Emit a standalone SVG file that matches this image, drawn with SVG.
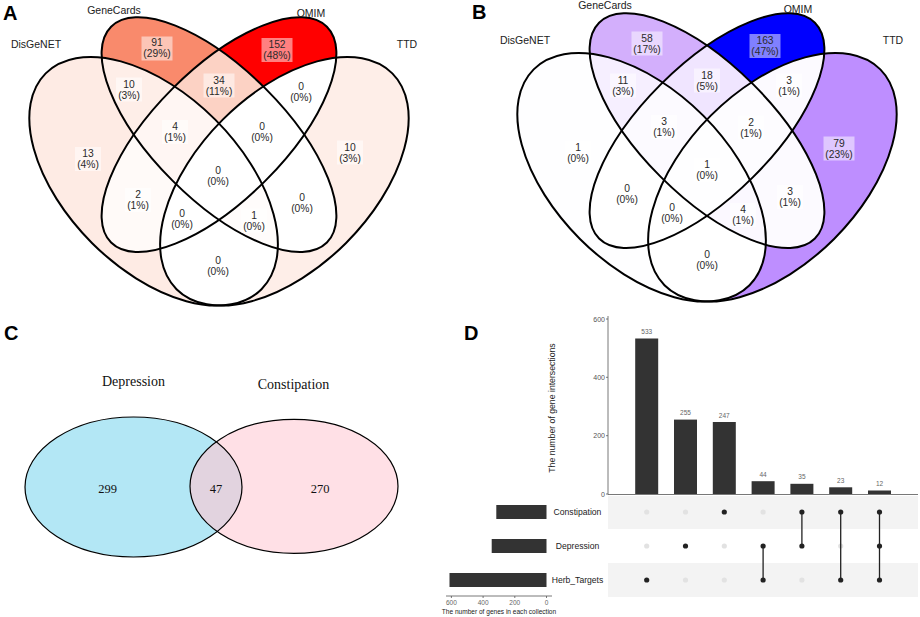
<svg xmlns="http://www.w3.org/2000/svg" width="920" height="617" viewBox="0 0 920 617">
<style>
.plab{font-family:"Liberation Sans",Arial,sans-serif;font-weight:bold;font-size:20px;fill:#000}
.setn{font-family:"Liberation Sans",Arial,sans-serif;font-size:10.5px;fill:#222;text-anchor:middle}
.rl text{font-family:"Liberation Sans",Arial,sans-serif;font-size:10.3px;fill:#2a2a2a;text-anchor:middle}
.rl rect{fill:#fff;fill-opacity:0.5}
.ol{fill:none;stroke:#000;stroke-width:2}
.cser{font-family:"Liberation Serif","Times New Roman",serif;fill:#111;text-anchor:middle}
.dsm{font-family:"Liberation Sans",Arial,sans-serif;fill:#666;font-size:6.5px;text-anchor:middle}
.dtk{font-family:"Liberation Sans",Arial,sans-serif;fill:#555;font-size:7px;text-anchor:end}
.dtl{font-family:"Liberation Sans",Arial,sans-serif;fill:#222;text-anchor:middle}
.bar{fill:#333}
.on{fill:#222}
.off{fill:#e2e2e2}
.lnk{stroke:#222;stroke-width:1.3}
.ax{stroke:#555;stroke-width:0.8;fill:none}
</style>
<defs>
<ellipse id="eA" cx="0.35" cy="0.47" rx="0.35" ry="0.2" transform="rotate(135 0.35 0.47)" vector-effect="non-scaling-stroke"/>
<ellipse id="eB" cx="0.5" cy="0.577" rx="0.35" ry="0.15" transform="rotate(135 0.5 0.577)" vector-effect="non-scaling-stroke"/>
<ellipse id="eC" cx="0.5" cy="0.577" rx="0.35" ry="0.15" transform="rotate(45 0.5 0.577)" vector-effect="non-scaling-stroke"/>
<ellipse id="eD" cx="0.65" cy="0.47" rx="0.35" ry="0.2" transform="rotate(45 0.65 0.47)" vector-effect="non-scaling-stroke"/>
<clipPath id="cA"><use href="#eA"/></clipPath>
<clipPath id="cB"><use href="#eB"/></clipPath>
<clipPath id="cC"><use href="#eC"/></clipPath>
<clipPath id="cD"><use href="#eD"/></clipPath>
<clipPath id="cLeft"><ellipse cx="133.5" cy="487" rx="108.5" ry="70"/></clipPath>
</defs>
<rect width="920" height="617" fill="#fff"/>

<!-- Panel A -->
<g id="panelA">
<text class="plab" x="3" y="20">A</text>
<g id="vennA" transform="matrix(436 0 0 -436 1 386.2)">
 <use href="#eA" fill="#FEEBE4"/>
 <use href="#eB" fill="#F98A6C"/>
 <use href="#eC" fill="#FF0000"/>
 <use href="#eD" fill="#FEEEE8"/>
 <g clip-path="url(#cA)"><use href="#eB" fill="#FEEEE8"/></g>
 <g clip-path="url(#cA)"><use href="#eC" fill="#FFFAF8"/></g>
 <g clip-path="url(#cA)"><use href="#eD" fill="#FFFFFF"/></g>
 <g clip-path="url(#cB)"><use href="#eC" fill="#FCD2C4"/></g>
 <g clip-path="url(#cB)"><use href="#eD" fill="#FFFFFF"/></g>
 <g clip-path="url(#cC)"><use href="#eD" fill="#FFFFFF"/></g>
 <g clip-path="url(#cA)"><g clip-path="url(#cB)"><use href="#eC" fill="#FFF6F3"/></g></g>
 <g clip-path="url(#cA)"><g clip-path="url(#cB)"><use href="#eD" fill="#FFFCFB"/></g></g>
 <g clip-path="url(#cA)"><g clip-path="url(#cC)"><use href="#eD" fill="#FFFFFF"/></g></g>
 <g clip-path="url(#cB)"><g clip-path="url(#cC)"><use href="#eD" fill="#FFFFFF"/></g></g>
 <g clip-path="url(#cA)"><g clip-path="url(#cB)"><g clip-path="url(#cC)"><use href="#eD" fill="#FFFFFF"/></g></g></g>
 <g id="A_DisGeNET"><use href="#eA" class="ol"/></g>
 <g id="A_GeneCards"><use href="#eB" class="ol"/></g>
 <g id="A_OMIM"><use href="#eC" class="ol"/></g>
 <g id="A_TTD"><use href="#eD" class="ol"/></g>
</g>
<text class="setn" x="36" y="48">DisGeNET</text>
<text class="setn" x="114" y="14">GeneCards</text>
<text class="setn" x="311" y="17">OMIM</text>
<text class="setn" x="407" y="48">TTD</text>
<g class="rl">
 <g><rect x="75" y="147" width="26" height="24"/><text x="88" y="157">13</text><text x="88" y="168">(4%)</text></g>
 <g><rect x="141.5" y="36.5" width="31" height="24"/><text x="157" y="46">91</text><text x="157" y="57">(29%)</text></g>
 <g><rect x="261.5" y="38" width="31" height="24"/><text x="277" y="48">152</text><text x="277" y="59">(48%)</text></g>
 <g><rect x="116" y="77.5" width="26" height="24"/><text x="129" y="87.5">10</text><text x="129" y="98.5">(3%)</text></g>
 <g><rect x="203.5" y="73.5" width="31" height="24"/><text x="219" y="83.5">34</text><text x="219" y="94.5">(11%)</text></g>
 <g><rect x="288" y="79.5" width="26" height="24"/><text x="301" y="89.5">0</text><text x="301" y="100.5">(0%)</text></g>
 <g><rect x="162" y="120" width="26" height="24"/><text x="175" y="130">4</text><text x="175" y="141">(1%)</text></g>
 <g><rect x="249" y="120" width="26" height="24"/><text x="262" y="130">0</text><text x="262" y="141">(0%)</text></g>
 <g><rect x="337" y="140.5" width="26" height="24"/><text x="350" y="150.5">10</text><text x="350" y="161.5">(3%)</text></g>
 <g><rect x="125" y="188" width="26" height="24"/><text x="138" y="198">2</text><text x="138" y="209">(1%)</text></g>
 <g><rect x="205" y="164" width="26" height="24"/><text x="218" y="174">0</text><text x="218" y="185">(0%)</text></g>
 <g><rect x="169" y="207" width="26" height="24"/><text x="182" y="217">0</text><text x="182" y="228">(0%)</text></g>
 <g><rect x="241" y="208.5" width="26" height="24"/><text x="254" y="218.5">1</text><text x="254" y="229.5">(0%)</text></g>
 <g><rect x="289" y="190.5" width="26" height="24"/><text x="302" y="200.5">0</text><text x="302" y="211.5">(0%)</text></g>
 <g><rect x="205" y="253.5" width="26" height="24"/><text x="218" y="263.5">0</text><text x="218" y="274.5">(0%)</text></g>
</g>
</g>

<!-- Panel B -->
<g id="panelB">
<text class="plab" x="472" y="19">B</text>
<g id="vennB" transform="matrix(436 0 0 -436 489 382.2)">
 <use href="#eA" fill="#FEFEFF"/>
 <use href="#eB" fill="#D3AFFC"/>
 <use href="#eC" fill="#0000FF"/>
 <use href="#eD" fill="#BE8EFF"/>
 <g clip-path="url(#cA)"><use href="#eB" fill="#F6EFFF"/></g>
 <g clip-path="url(#cA)"><use href="#eC" fill="#FFFFFF"/></g>
 <g clip-path="url(#cA)"><use href="#eD" fill="#FFFFFF"/></g>
 <g clip-path="url(#cB)"><use href="#eC" fill="#F0E5FF"/></g>
 <g clip-path="url(#cB)"><use href="#eD" fill="#FCFAFF"/></g>
 <g clip-path="url(#cC)"><use href="#eD" fill="#FCFAFF"/></g>
 <g clip-path="url(#cA)"><g clip-path="url(#cB)"><use href="#eC" fill="#FCFAFF"/></g></g>
 <g clip-path="url(#cA)"><g clip-path="url(#cB)"><use href="#eD" fill="#FBF8FF"/></g></g>
 <g clip-path="url(#cA)"><g clip-path="url(#cC)"><use href="#eD" fill="#FFFFFF"/></g></g>
 <g clip-path="url(#cB)"><g clip-path="url(#cC)"><use href="#eD" fill="#FDFCFF"/></g></g>
 <g clip-path="url(#cA)"><g clip-path="url(#cB)"><g clip-path="url(#cC)"><use href="#eD" fill="#FEFEFF"/></g></g></g>
 <g id="B_DisGeNET"><use href="#eA" class="ol"/></g>
 <g id="B_GeneCards"><use href="#eB" class="ol"/></g>
 <g id="B_OMIM"><use href="#eC" class="ol"/></g>
 <g id="B_TTD"><use href="#eD" class="ol"/></g>
</g>
<text class="setn" x="525" y="44">DisGeNET</text>
<text class="setn" x="605" y="9">GeneCards</text>
<text class="setn" x="798" y="13">OMIM</text>
<text class="setn" x="893" y="44">TTD</text>
<g class="rl">
 <g><rect x="565" y="140.5" width="26" height="24"/><text x="578" y="150.5">1</text><text x="578" y="161.5">(0%)</text></g>
 <g><rect x="631.5" y="31.5" width="31" height="24"/><text x="647" y="41.5">58</text><text x="647" y="52.5">(17%)</text></g>
 <g><rect x="749.5" y="34" width="31" height="24"/><text x="765" y="44">163</text><text x="765" y="55">(47%)</text></g>
 <g><rect x="610" y="73.5" width="26" height="24"/><text x="623" y="83.5">11</text><text x="623" y="94.5">(3%)</text></g>
 <g><rect x="694" y="68.5" width="26" height="24"/><text x="707" y="78.5">18</text><text x="707" y="89.5">(5%)</text></g>
 <g><rect x="776" y="73.5" width="26" height="24"/><text x="789" y="83.5">3</text><text x="789" y="94.5">(1%)</text></g>
 <g><rect x="651" y="115" width="26" height="24"/><text x="664" y="125">3</text><text x="664" y="136">(1%)</text></g>
 <g><rect x="738" y="115.5" width="26" height="24"/><text x="751" y="125.5">2</text><text x="751" y="136.5">(1%)</text></g>
 <g><rect x="823.5" y="136.5" width="31" height="24"/><text x="839" y="146.5">79</text><text x="839" y="157.5">(23%)</text></g>
 <g><rect x="694" y="158" width="26" height="24"/><text x="707" y="168">1</text><text x="707" y="179">(0%)</text></g>
 <g><rect x="614" y="182" width="26" height="24"/><text x="627" y="192">0</text><text x="627" y="203">(0%)</text></g>
 <g><rect x="777" y="185" width="26" height="24"/><text x="790" y="195">3</text><text x="790" y="206">(1%)</text></g>
 <g><rect x="659" y="201" width="26" height="24"/><text x="672" y="211">0</text><text x="672" y="222">(0%)</text></g>
 <g><rect x="730" y="203" width="26" height="24"/><text x="743" y="213">4</text><text x="743" y="224">(1%)</text></g>
 <g><rect x="694" y="248" width="26" height="24"/><text x="707" y="258">0</text><text x="707" y="269">(0%)</text></g>
</g>
</g>

<!-- Panel C -->
<g id="panelC">
<text class="plab" x="4" y="340">C</text>
<g id="C_Depression"><ellipse cx="133.5" cy="487" rx="108.5" ry="70" fill="#B3E7F5"/></g>
<g id="C_Constipation"><ellipse cx="294" cy="486.3" rx="104" ry="67" fill="#FFE0E6"/></g>
<g clip-path="url(#cLeft)"><ellipse cx="294" cy="486.3" rx="104" ry="67" fill="#E2D3DF"/></g>
<ellipse cx="133.5" cy="487" rx="108.5" ry="70" fill="none" stroke="#000" stroke-width="1.2"/>
<ellipse cx="294" cy="486.3" rx="104" ry="67" fill="none" stroke="#000" stroke-width="1.2"/>
<text class="cser" x="133.5" y="386" font-size="14">Depression</text>
<text class="cser" x="293.5" y="389" font-size="14">Constipation</text>
<text class="cser" x="107.5" y="493" font-size="12.5">299</text>
<text class="cser" x="216" y="493" font-size="12.5">47</text>
<text class="cser" x="320" y="493" font-size="12.5">270</text>
</g>

<!-- Panel D -->
<g id="panelD">
<text class="plab" x="464" y="340">D</text>
<g id="D_axes">
 <line class="ax" x1="608" y1="316" x2="608" y2="494.5"/>
 <line class="ax" x1="608" y1="494.5" x2="918" y2="494.5"/>
 <line class="ax" x1="606" y1="319" x2="608" y2="319"/>
 <line class="ax" x1="606" y1="377.3" x2="608" y2="377.3"/>
 <line class="ax" x1="606" y1="435.7" x2="608" y2="435.7"/>
 <line class="ax" x1="606" y1="494" x2="608" y2="494"/>
 <text class="dtk" x="605" y="321.5">600</text>
 <text class="dtk" x="605" y="379.8">400</text>
 <text class="dtk" x="605" y="438.2">200</text>
 <text class="dtk" x="605" y="496.5">0</text>
 <text class="dtl" font-size="8.7" transform="translate(555 408) rotate(-90)">The number of gene intersections</text>
</g>
<g id="D_bars">
 <rect class="bar" x="635.2" y="338.5" width="23" height="155.5"/>
 <rect class="bar" x="674" y="419.6" width="23" height="74.4"/>
 <rect class="bar" x="712.8" y="422" width="23" height="72"/>
 <rect class="bar" x="751.6" y="481.2" width="23" height="12.8"/>
 <rect class="bar" x="790.4" y="483.8" width="23" height="10.2"/>
 <rect class="bar" x="829.2" y="487.3" width="23" height="6.7"/>
 <rect class="bar" x="868" y="490.5" width="23" height="3.5"/>
 <text class="dsm" x="646.7" y="334">533</text>
 <text class="dsm" x="685.5" y="415">255</text>
 <text class="dsm" x="724.3" y="417.5">247</text>
 <text class="dsm" x="763.1" y="476.5">44</text>
 <text class="dsm" x="801.9" y="479">35</text>
 <text class="dsm" x="840.7" y="482.5">23</text>
 <text class="dsm" x="879.5" y="486">12</text>
</g>
<g id="D_matrix">
 <rect x="608" y="496" width="310" height="33" fill="#F3F3F3"/>
 <rect x="608" y="563" width="310" height="34" fill="#F3F3F3"/>
 <circle class="off" cx="646.7" cy="512" r="2.6"/><circle class="off" cx="646.7" cy="546" r="2.6"/><circle class="on" cx="646.7" cy="580" r="2.6"/>
 <circle class="off" cx="685.5" cy="512" r="2.6"/><circle class="on" cx="685.5" cy="546" r="2.6"/><circle class="off" cx="685.5" cy="580" r="2.6"/>
 <circle class="on" cx="724.3" cy="512" r="2.6"/><circle class="off" cx="724.3" cy="546" r="2.6"/><circle class="off" cx="724.3" cy="580" r="2.6"/>
 <circle class="off" cx="763.1" cy="512" r="2.6"/>
 <line class="lnk" x1="763.1" y1="546" x2="763.1" y2="580"/>
 <circle class="on" cx="763.1" cy="546" r="2.6"/><circle class="on" cx="763.1" cy="580" r="2.6"/>
 <circle class="off" cx="801.9" cy="580" r="2.6"/>
 <line class="lnk" x1="801.9" y1="512" x2="801.9" y2="546"/>
 <circle class="on" cx="801.9" cy="512" r="2.6"/><circle class="on" cx="801.9" cy="546" r="2.6"/>
 <circle class="off" cx="840.7" cy="546" r="2.6"/>
 <line class="lnk" x1="840.7" y1="512" x2="840.7" y2="580"/>
 <circle class="on" cx="840.7" cy="512" r="2.6"/><circle class="on" cx="840.7" cy="580" r="2.6"/>
 <line class="lnk" x1="879.5" y1="512" x2="879.5" y2="580"/>
 <circle class="on" cx="879.5" cy="512" r="2.6"/><circle class="on" cx="879.5" cy="546" r="2.6"/><circle class="on" cx="879.5" cy="580" r="2.6"/>
</g>
<g id="D_sets">
 <rect class="bar" x="496.3" y="505" width="50.2" height="14"/>
 <rect class="bar" x="491.7" y="539" width="54.8" height="14"/>
 <rect class="bar" x="449.5" y="573" width="97" height="14"/>
 <text class="dtl" x="577.5" y="515" font-size="8.6">Constipation</text>
 <text class="dtl" x="577.5" y="549" font-size="8.6">Depression</text>
 <text class="dtl" x="577.5" y="583" font-size="8.6">Herb_Targets</text>
 <line class="ax" x1="446" y1="596" x2="552" y2="596"/>
 <line class="ax" x1="451.4" y1="596" x2="451.4" y2="598"/>
 <line class="ax" x1="483.1" y1="596" x2="483.1" y2="598"/>
 <line class="ax" x1="514.8" y1="596" x2="514.8" y2="598"/>
 <line class="ax" x1="546.5" y1="596" x2="546.5" y2="598"/>
 <text class="dsm" x="451.4" y="605" font-size="6">600</text>
 <text class="dsm" x="483.1" y="605" font-size="6">400</text>
 <text class="dsm" x="514.8" y="605" font-size="6">200</text>
 <text class="dsm" x="546.5" y="605" font-size="6">0</text>
 <text class="dtl" x="499" y="614" font-size="6.55">The number of genes in each collection</text>
</g>
</g>
</svg>
